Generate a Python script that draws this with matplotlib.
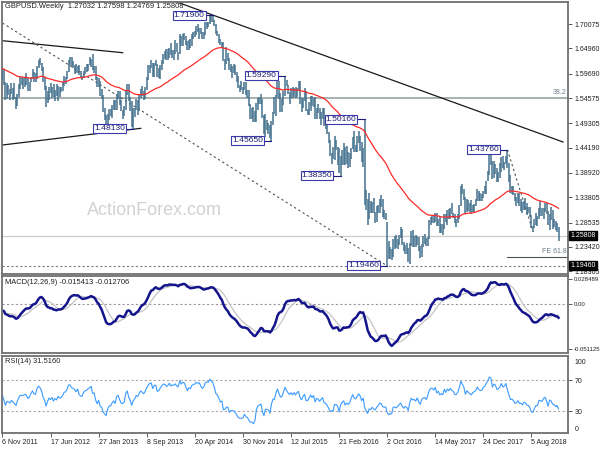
import matplotlib
matplotlib.use("Agg")
import matplotlib.pyplot as plt
from matplotlib import font_manager
import pandas as pd

# GBPUSD weekly bars, weeks starting Sunday 6 Nov 2011 up to 9 Dec 2018
first_week = "2011-11-06"

bar_high = [
    1.6096, 1.6070, 1.5800, 1.5780, 1.5740, 1.5650, 1.5770, 1.5670,
    # 2012
    1.5780, 1.5480, 1.5550, 1.5750, 1.5900, 1.5900, 1.5880, 1.5890, 1.5990, 1.5900, 1.5800, 1.5900, 1.6060,
    1.6000, 1.5990, 1.6130, 1.6250, 1.6300, 1.6200, 1.6100, 1.5900, 1.5720, 1.5600, 1.5700, 1.5780, 1.5700,
    1.5750, 1.5620, 1.5750, 1.5710, 1.5700, 1.5700, 1.5790, 1.5910, 1.5900, 1.6030, 1.6260, 1.6310, 1.6310,
    1.6230, 1.6140, 1.6170, 1.6130, 1.6140, 1.6030, 1.5930, 1.6020, 1.6100, 1.6170, 1.6180, 1.6310, 1.6270,
    # 2013
    1.6380, 1.6120, 1.6130, 1.5890, 1.5870, 1.5820, 1.5640, 1.5520, 1.5240, 1.5100, 1.5120, 1.5230, 1.5230,
    1.5320, 1.5410, 1.5410, 1.5550, 1.5600, 1.5600, 1.5410, 1.5200, 1.5300, 1.5610, 1.5750, 1.5750, 1.5470,
    1.5400, 1.5260, 1.5260, 1.5430, 1.5420, 1.5540, 1.5650, 1.5720, 1.5600, 1.5680, 1.5900, 1.6160, 1.6160,
    1.6260, 1.6200, 1.6190, 1.6250, 1.6180, 1.6080, 1.6140, 1.6250, 1.6390, 1.6450, 1.6480, 1.6480, 1.6500,
    # 2014
    1.6600, 1.6470, 1.6460, 1.6670, 1.6610, 1.6420, 1.6800, 1.6750, 1.6790, 1.6820, 1.6760, 1.6650, 1.6670,
    1.6700, 1.6790, 1.6840, 1.6860, 1.6960, 1.7000, 1.6920, 1.6920, 1.6850, 1.6850, 1.7060, 1.7060, 1.7060,
    1.7180, 1.7180, 1.7190, 1.7100, 1.7000, 1.6860, 1.6800, 1.6700, 1.6630, 1.6640, 1.6270, 1.6520, 1.6400,
    1.6300, 1.6180, 1.6130, 1.6180, 1.6150, 1.6010, 1.5920, 1.5740, 1.5810, 1.5700, 1.5790, 1.5790, 1.5620,
    # 2015
    1.5620, 1.5330, 1.5240, 1.5270, 1.5190, 1.5350, 1.5450, 1.5480, 1.5550, 1.5440, 1.5100, 1.5120, 1.5000,
    1.4940, 1.4900, 1.4980, 1.5170, 1.5490, 1.5520, 1.5810, 1.5820, 1.5560, 1.5440, 1.5600, 1.5930, 1.5840,
    1.5740, 1.5590, 1.5670, 1.5690, 1.5670, 1.5690, 1.5660, 1.5820, 1.5820, 1.5450, 1.5460, 1.5660, 1.5610,
    1.5220, 1.5380, 1.5510, 1.5510, 1.5450, 1.5470, 1.5240, 1.5340, 1.5250, 1.5160, 1.5240, 1.5240, 1.4950,
    # 2016
    1.4950, 1.4750, 1.4580, 1.4300, 1.4440, 1.4670, 1.4590, 1.4430, 1.4410, 1.4240, 1.4370, 1.4510, 1.4440,
    1.4460, 1.4340, 1.4300, 1.4410, 1.4640, 1.4770, 1.4470, 1.4670, 1.4770, 1.4670, 1.4530, 1.4410, 1.5016,
    1.3530, 1.3340, 1.3480, 1.3310, 1.3290, 1.3370, 1.3080, 1.3190, 1.3230, 1.3340, 1.3440, 1.3340, 1.3120,
    1.3060, 1.2870, 1.2470, 1.2340, 1.2290, 1.2500, 1.2570, 1.2590, 1.2500, 1.2600, 1.2770, 1.2720, 1.2440,
    # 2017
    1.2390, 1.2430, 1.2330, 1.2420, 1.2680, 1.2700, 1.2580, 1.2590, 1.2570, 1.2560, 1.2360, 1.2400, 1.2580,
    1.2610, 1.2520, 1.2550, 1.2900, 1.2960, 1.2990, 1.2990, 1.3050, 1.3050, 1.2930, 1.2980, 1.2820, 1.2820,
    1.3030, 1.3030, 1.3110, 1.3130, 1.3160, 1.3270, 1.3060, 1.3040, 1.2920, 1.3030, 1.3230, 1.3620, 1.3650,
    1.3550, 1.3390, 1.3340, 1.3330, 1.3260, 1.3320, 1.3220, 1.3250, 1.3350, 1.3550, 1.3520, 1.3470, 1.3460,
    # 2018
    1.3520, 1.3610, 1.3730, 1.3940, 1.4350, 1.4260, 1.4140, 1.4150, 1.4070, 1.3990, 1.3920, 1.4090, 1.4220,
    1.4240, 1.4120, 1.4240, 1.4376, 1.4090, 1.3840, 1.3620, 1.3610, 1.3480, 1.3390, 1.3470, 1.3470, 1.3340,
    1.3290, 1.3310, 1.3360, 1.3260, 1.3180, 1.3170, 1.3010, 1.2790, 1.2930, 1.3050, 1.2990, 1.3150, 1.3298,
    1.3160, 1.3160, 1.3260, 1.3260, 1.3090, 1.3040, 1.3180, 1.3110, 1.2930, 1.2890, 1.2840, 1.27598,
]

bar_low = [
    1.5844, 1.5725, 1.5420, 1.5430, 1.5530, 1.5420, 1.5540, 1.5410,
    # 2012
    1.5440, 1.5235, 1.5300, 1.5480, 1.5650, 1.5740, 1.5640, 1.5700, 1.5740, 1.5600, 1.5600, 1.5800, 1.5850,
    1.5800, 1.5800, 1.5860, 1.6090, 1.6150, 1.6030, 1.5800, 1.5630, 1.5270, 1.5350, 1.5410, 1.5560, 1.5450,
    1.5480, 1.5400, 1.5500, 1.5400, 1.5470, 1.5580, 1.5600, 1.5710, 1.5760, 1.5850, 1.6000, 1.6150, 1.6120,
    1.6090, 1.5970, 1.5990, 1.5990, 1.5940, 1.5880, 1.5830, 1.5880, 1.5970, 1.6000, 1.6020, 1.6140, 1.6100,
    # 2013
    1.6050, 1.5990, 1.5830, 1.5680, 1.5690, 1.5500, 1.5440, 1.5160, 1.4990, 1.4830, 1.4870, 1.5000, 1.5090,
    1.5040, 1.5200, 1.5200, 1.5200, 1.5430, 1.5310, 1.5180, 1.5010, 1.5080, 1.5200, 1.5520, 1.5400, 1.5180,
    1.4860, 1.4813, 1.5070, 1.5200, 1.5100, 1.5190, 1.5450, 1.5500, 1.5420, 1.5430, 1.5620, 1.5830, 1.5980,
    1.6080, 1.5890, 1.5900, 1.6130, 1.5900, 1.5870, 1.5850, 1.6040, 1.6180, 1.6270, 1.6250, 1.6250, 1.6300,
    # 2014
    1.6360, 1.6300, 1.6250, 1.6380, 1.6430, 1.6250, 1.6390, 1.6550, 1.6540, 1.6680, 1.6560, 1.6460, 1.6460,
    1.6500, 1.6550, 1.6700, 1.6730, 1.6780, 1.6850, 1.6690, 1.6790, 1.6690, 1.6690, 1.6780, 1.6910, 1.6950,
    1.7000, 1.7060, 1.7060, 1.6970, 1.6800, 1.6760, 1.6600, 1.6560, 1.6520, 1.6230, 1.6050, 1.6170, 1.6240,
    1.6050, 1.6000, 1.5880, 1.5990, 1.5950, 1.5790, 1.5660, 1.5590, 1.5620, 1.5540, 1.5620, 1.5530, 1.5460,
    # 2015
    1.5300, 1.5030, 1.5030, 1.4950, 1.4950, 1.4950, 1.5200, 1.5330, 1.5330, 1.5050, 1.4700, 1.4640, 1.4790,
    1.4700, 1.4630, 1.4565, 1.4890, 1.5130, 1.5080, 1.5470, 1.5440, 1.5170, 1.5170, 1.5320, 1.5510, 1.5710,
    1.5550, 1.5330, 1.5450, 1.5450, 1.5480, 1.5450, 1.5480, 1.5610, 1.5330, 1.5160, 1.5250, 1.5400, 1.5190,
    1.5110, 1.5110, 1.5180, 1.5300, 1.5270, 1.5020, 1.5020, 1.5150, 1.5020, 1.4900, 1.5030, 1.4880, 1.4820,
    # 2016
    1.4700, 1.4510, 1.4240, 1.4080, 1.4190, 1.4170, 1.4370, 1.4050, 1.3880, 1.3835, 1.4050, 1.4050, 1.4050,
    1.4070, 1.4000, 1.4010, 1.4180, 1.4390, 1.4330, 1.4330, 1.4330, 1.4520, 1.4350, 1.4130, 1.4010, 1.3230,
    1.3120, 1.2800, 1.2930, 1.3060, 1.3060, 1.3050, 1.2850, 1.2870, 1.3050, 1.3050, 1.3170, 1.2970, 1.2920,
    1.2910, 1.1946, 1.2090, 1.2090, 1.2080, 1.2140, 1.2300, 1.2330, 1.2300, 1.2390, 1.2530, 1.2390, 1.2250,
    # 2017
    1.2200, 1.2200, 1.2030, 1.1986, 1.2370, 1.2350, 1.2340, 1.2340, 1.2380, 1.2250, 1.2110, 1.2130, 1.2340,
    1.2400, 1.2360, 1.2360, 1.2510, 1.2800, 1.2840, 1.2840, 1.2870, 1.2780, 1.2780, 1.2640, 1.2630, 1.2590,
    1.2710, 1.2870, 1.2810, 1.2930, 1.2930, 1.3030, 1.2950, 1.2840, 1.2770, 1.2850, 1.2930, 1.3200, 1.3450,
    1.3330, 1.3030, 1.3070, 1.3100, 1.3080, 1.3040, 1.3080, 1.3070, 1.3210, 1.3310, 1.3300, 1.3300, 1.3300,
    # 2018
    1.3370, 1.3460, 1.3450, 1.3720, 1.3850, 1.4060, 1.3760, 1.3790, 1.3860, 1.3710, 1.3710, 1.3790, 1.3910,
    1.3990, 1.3960, 1.4070, 1.3990, 1.3710, 1.3480, 1.3450, 1.3440, 1.3300, 1.3200, 1.3260, 1.3200, 1.3100,
    1.3050, 1.3120, 1.3110, 1.3010, 1.3060, 1.2960, 1.2730, 1.2662, 1.2730, 1.2810, 1.2790, 1.2920, 1.3000,
    1.2990, 1.2920, 1.3070, 1.3030, 1.2810, 1.2700, 1.2910, 1.2720, 1.2760, 1.2690, 1.2660, 1.24769,
]

bar_close = [
    1.6070, 1.5800, 1.5450, 1.5650, 1.5600, 1.5540, 1.5660, 1.5540,
    # 2012
    1.5460, 1.5330, 1.5530, 1.5700, 1.5800, 1.5780, 1.5800, 1.5840, 1.5800, 1.5660, 1.5720, 1.5870, 1.5980,
    1.5870, 1.5850, 1.6110, 1.6240, 1.6180, 1.6080, 1.5820, 1.5680, 1.5340, 1.5520, 1.5680, 1.5600, 1.5690,
    1.5500, 1.5610, 1.5540, 1.5700, 1.5610, 1.5630, 1.5710, 1.5860, 1.5880, 1.6000, 1.6240, 1.6230, 1.6150,
    1.6130, 1.6090, 1.6020, 1.6130, 1.5950, 1.5890, 1.5890, 1.6020, 1.6080, 1.6100, 1.6160, 1.6190, 1.6250,
    # 2013
    1.6060, 1.6080, 1.5850, 1.5700, 1.5800, 1.5520, 1.5480, 1.5170, 1.5020, 1.4880, 1.5090, 1.5190, 1.5190,
    1.5300, 1.5360, 1.5240, 1.5520, 1.5550, 1.5350, 1.5180, 1.5150, 1.5200, 1.5560, 1.5690, 1.5400, 1.5210,
    1.4890, 1.5100, 1.5200, 1.5380, 1.5330, 1.5500, 1.5640, 1.5570, 1.5500, 1.5650, 1.5850, 1.6010, 1.6160,
    1.6180, 1.5960, 1.6170, 1.6180, 1.5920, 1.5970, 1.6120, 1.6240, 1.6370, 1.6360, 1.6290, 1.6330, 1.6470,
    # 2014
    1.6380, 1.6440, 1.6430, 1.6500, 1.6440, 1.6420, 1.6740, 1.6640, 1.6740, 1.6720, 1.6610, 1.6490, 1.6620,
    1.6590, 1.6740, 1.6790, 1.6810, 1.6890, 1.6870, 1.6890, 1.6810, 1.6760, 1.6810, 1.6980, 1.7020, 1.7010,
    1.7150, 1.7110, 1.7080, 1.6980, 1.6830, 1.6790, 1.6700, 1.6580, 1.6600, 1.6240, 1.6250, 1.6300, 1.6300,
    1.6050, 1.6090, 1.6080, 1.6080, 1.5980, 1.5850, 1.5680, 1.5650, 1.5640, 1.5650, 1.5710, 1.5580, 1.5520,
    # 2015
    1.5320, 1.5150, 1.5150, 1.4980, 1.5040, 1.5290, 1.5380, 1.5400, 1.5430, 1.5050, 1.4730, 1.4930, 1.4900,
    1.4880, 1.4640, 1.4960, 1.5170, 1.5150, 1.5470, 1.5700, 1.5480, 1.5280, 1.5310, 1.5570, 1.5890, 1.5730,
    1.5600, 1.5510, 1.5610, 1.5500, 1.5620, 1.5510, 1.5630, 1.5700, 1.5400, 1.5260, 1.5430, 1.5540, 1.5190,
    1.5170, 1.5310, 1.5460, 1.5320, 1.5420, 1.5040, 1.5220, 1.5190, 1.5040, 1.5140, 1.5220, 1.4900, 1.4880,
    # 2016
    1.4740, 1.4540, 1.4240, 1.4270, 1.4250, 1.4500, 1.4500, 1.4400, 1.3920, 1.4230, 1.4360, 1.4430, 1.4130,
    1.4230, 1.4130, 1.4200, 1.4410, 1.4620, 1.4430, 1.4370, 1.4500, 1.4640, 1.4530, 1.4250, 1.4380, 1.3660,
    1.3290, 1.2950, 1.3200, 1.3100, 1.3230, 1.3070, 1.2940, 1.3080, 1.3160, 1.3300, 1.3260, 1.3010, 1.2960,
    1.2970, 1.2430, 1.2180, 1.2230, 1.2190, 1.2490, 1.2490, 1.2420, 1.2480, 1.2570, 1.2620, 1.2400, 1.2280,
    # 2017
    1.2340, 1.2290, 1.2070, 1.2370, 1.2580, 1.2480, 1.2500, 1.2410, 1.2550, 1.2320, 1.2180, 1.2400, 1.2460,
    1.2480, 1.2380, 1.2550, 1.2830, 1.2950, 1.2950, 1.2880, 1.3030, 1.2800, 1.2890, 1.2730, 1.2790, 1.2740,
    1.3020, 1.2880, 1.3070, 1.3000, 1.3130, 1.3040, 1.3010, 1.2880, 1.2880, 1.2990, 1.3200, 1.3610, 1.3500,
    1.3390, 1.3070, 1.3280, 1.3190, 1.3130, 1.3080, 1.3190, 1.3240, 1.3310, 1.3480, 1.3380, 1.3350, 1.3370,
    # 2018
    1.3510, 1.3570, 1.3730, 1.3860, 1.4150, 1.4120, 1.3820, 1.4010, 1.3970, 1.3810, 1.3850, 1.3950, 1.4150,
    1.4020, 1.4090, 1.4240, 1.4000, 1.3780, 1.3530, 1.3550, 1.3470, 1.3310, 1.3340, 1.3410, 1.3270, 1.3280,
    1.3190, 1.3280, 1.3240, 1.3140, 1.3120, 1.3000, 1.2750, 1.2740, 1.2840, 1.2920, 1.2920, 1.3070, 1.3060,
    1.3030, 1.3110, 1.3150, 1.3030, 1.2810, 1.2990, 1.2960, 1.2820, 1.2800, 1.2710, 1.2740, 1.25808,
]
last_open = 1.27032

# weekly closes of the year before the chart, only to warm up the indicators
warmup_close = [
    1.6140, 1.6000, 1.5590, 1.5780, 1.5780, 1.5570, 1.5430, 1.5600, 1.5480, 1.5840, 1.5950, 1.5850, 1.6100,
    1.6000, 1.6220, 1.6140, 1.6320, 1.6090, 1.6190, 1.6100, 1.6050, 1.6340, 1.6320, 1.6520, 1.6700, 1.6440,
    1.6270, 1.6300, 1.6530, 1.6420, 1.6310, 1.6110, 1.6000, 1.6070, 1.5950, 1.6150, 1.6310, 1.6420, 1.6350,
    1.6300, 1.6500, 1.6420, 1.6230, 1.5950, 1.5770, 1.5460, 1.5590, 1.5490, 1.5760, 1.5820, 1.6080, 1.6040,
]

# swing labels drawn on the chart
label_price = [1.7190, 1.5929, 1.4813, 1.4565, 1.5016, 1.3835, 1.1946, 1.4376]
label_week = ["2014-07-13", "2015-06-14", "2013-07-07", "2015-04-12",
              "2016-06-19", "2016-02-28", "2016-10-02", "2018-04-15"]

# trendlines as (week, price) anchors
trend_solid = [
    [("2014-01-26", 1.7468), ("2018-12-30", 1.4539)],
    [("2011-11-06", 1.6658), ("2013-05-19", 1.6407)],
    [("2011-11-06", 1.4476), ("2013-08-11", 1.4825)],
]
trend_dotted = [
    [("2011-11-06", 1.7028), ("2016-10-02", 1.1946)],
    [("2018-04-15", 1.4376), ("2018-08-12", 1.2662)],
]
fib_level = 1.5466      # 38.2
fe_level = 1.2135       # FE 61.8
fe_start = "2018-04-15"
support_level = 1.1946

price_ticks = [1.70075, 1.64960, 1.59690, 1.54575, 1.49305, 1.44190, 1.38920,
               1.33805, 1.28535, 1.23420, 1.18305]
macd_ticks = [0.028489, 0.0, -0.051125]
macd_tick_text = ["0.028489", "0.00", "-0.051125"]
rsi_levels = [70, 30]
macd_shown = (-0.015413, -0.012706)
rsi_shown = 31.5160
date_ticks = ["2011-11-06", "2012-06-17", "2013-01-27", "2013-09-08", "2014-04-20", "2014-11-30",
              "2015-07-12", "2016-02-21", "2016-10-02", "2017-05-14", "2017-12-24", "2018-08-05"]

assert len(bar_high) == len(bar_low) == len(bar_close) == 371

weeks = pd.date_range(first_week, periods=len(bar_close), freq="7D")
x = list(range(len(bar_close)))


def wk(d):
    return (pd.Timestamp(d) - weeks[0]).days / 7


# indicators, computed on warm-up + chart closes
closes = pd.Series(warmup_close + bar_close)
n0 = len(warmup_close)
ema55 = closes.ewm(span=55, adjust=False).mean()[n0:]
macd = closes.ewm(span=12, adjust=False).mean() - closes.ewm(span=26, adjust=False).mean()
signal = macd.rolling(9).mean()
delta = closes.diff()
gain = delta.clip(lower=0).ewm(alpha=1 / 14, adjust=False).mean()
loss = (-delta.clip(upper=0)).ewm(alpha=1 / 14, adjust=False).mean()
rsi = 100 - 100 / (1 + gain / loss)
macd, signal, rsi = macd[n0:], signal[n0:], rsi[n0:]

names = {f.name for f in font_manager.fontManager.ttflist}
if "Liberation Sans Narrow" in names:
    base_font, fs = "Liberation Sans Narrow", 5.9
else:
    base_font, fs = "Liberation Sans", 5.0
plt.rcParams["font.family"] = [base_font, "DejaVu Sans"]

border = "#707070"
fig = plt.figure(figsize=(6, 4.5), dpi=100, facecolor="white")
ax_p = fig.add_axes([2 / 600, 1 - 274 / 450, 566 / 600, 272 / 450])
ax_m = fig.add_axes([2 / 600, 1 - 353 / 450, 566 / 600, 77 / 450])
ax_r = fig.add_axes([2 / 600, 1 - 433 / 450, 566 / 600, 77 / 450])

for ax in (ax_p, ax_m, ax_r):
    ax.set_xlim(-0.3, 376.3)
    for s in ax.spines.values():
        s.set_color(border)
        s.set_linewidth(1.3)
    ax.yaxis.tick_right()
    ax.tick_params(axis="y", length=3, width=0.6, color="#404040", pad=2, labelsize=fs, labelcolor="#202020")
    ax.tick_params(axis="x", length=3, width=0.6, color="#404040", pad=1.5, labelsize=fs, labelcolor="#202020")

# ---- price panel
ax_p.set_ylim(1.1777, 1.7468)
ax_p.set_xticks([])
ax_p.set_yticks(price_ticks)
ax_p.set_yticklabels([f"{v:.5f}" for v in price_ticks])

ax_p.text(0.27, 0.232, "ActionForex.com", transform=ax_p.transAxes, ha="center", va="center",
          fontsize=13, color="#d2d2d2", family="Liberation Sans")

ax_p.axhline(fib_level, color="#9aa4a4", lw=1.2, zorder=1)
ax_p.axhline(bar_close[-1], color="#cccccc", lw=0.9, zorder=1)
ax_p.axhline(support_level, color="#7a7a7a", lw=0.8, ls=(0, (2, 2)), zorder=1)
ax_p.plot([wk(fe_start), 376.3], [fe_level, fe_level], color="#4a5555", lw=0.8)
ax_p.text(0.997, fib_level + 0.004, "38.2", transform=ax_p.get_yaxis_transform(),
          ha="right", va="bottom", fontsize=fs, color="#6a7a8a")
ax_p.text(0.997, fe_level + 0.004, "FE 61.8", transform=ax_p.get_yaxis_transform(),
          ha="right", va="bottom", fontsize=fs, color="#6a7a8a")

for (d0, p0), (d1, p1) in trend_solid:
    ax_p.plot([wk(d0), wk(d1)], [p0, p1], color="#1a1a1a", lw=0.9, zorder=2)
for (d0, p0), (d1, p1) in trend_dotted:
    ax_p.plot([wk(d0), wk(d1)], [p0, p1], color="#505050", lw=0.8, ls=(0, (2, 2.5)), zorder=2)

ax_p.vlines(x, bar_low, bar_high, color="#44728f", lw=1.1, zorder=3)
ax_p.plot(x, ema55, color="#ff2a2a", lw=0.9, zorder=4)

for p, d in zip(label_price, label_week):
    i = wk(d)
    ax_p.plot([i - 5.5, i], [p, p], color="#1c1c80", lw=0.8, zorder=5)
    ax_p.text(i - 5.5, p, f"{p:.5f}", ha="right", va="center", fontsize=fs + 1.1, color="#1c1c78",
              zorder=6, bbox=dict(boxstyle="square,pad=0.12", fc="white", ec="#3a3aa8", lw=0.8))

for v in (bar_close[-1], support_level):
    ax_p.text(1.004, v, f"{v:.5f}", transform=ax_p.get_yaxis_transform(), ha="left", va="center",
              fontsize=fs, color="white", bbox=dict(boxstyle="square,pad=0.15", fc="black", ec="black"))

ax_p.text(0.006, 0.982, f"GBPUSD.Weekly  {last_open:.5f} {bar_high[-1]:.5f} {bar_low[-1]:.5f} {bar_close[-1]:.5f}",
          transform=ax_p.transAxes, ha="left", va="center", fontsize=fs + 0.4, color="#202020")

# ---- MACD panel
ax_m.set_ylim(-0.0557, 0.0318)
ax_m.set_xticks([])
ax_m.set_yticks(macd_ticks)
ax_m.set_yticklabels(macd_tick_text)
ax_m.tick_params(axis="y", pad=1, labelsize=fs - 0.7)
ax_m.axhline(0, color="#999999", lw=0.8, ls=(0, (2, 2)))
ax_m.plot(x, signal, color="#c4c4c4", lw=0.9)
ax_m.plot(x, macd, color="#14148c", lw=1.8)
ax_m.text(0.006, 0.913, f"MACD(12,26,9) {macd_shown[0]:.6f} {macd_shown[1]:.6f}",
          transform=ax_m.transAxes, ha="left", va="center", fontsize=fs + 0.4, color="#202020")

# ---- RSI panel
ax_r.set_ylim(1.6, 101)
ax_r.set_yticks(rsi_levels)
ax_r.set_yticklabels([str(v) for v in rsi_levels])
for lvl in rsi_levels:
    ax_r.axhline(lvl, color="#aaaaaa", lw=0.8, ls=(0, (2, 2)))
ax_r.text(1.012, 0.92, "100", transform=ax_r.transAxes, ha="left", va="center", fontsize=fs, color="#202020")
ax_r.text(1.012, 0.05, "0", transform=ax_r.transAxes, ha="left", va="center", fontsize=fs, color="#202020")
ax_r.plot(x, rsi, color="#3b9bff", lw=0.8)
ax_r.text(0.006, 0.926, f"RSI(14) {rsi_shown:.4f}", transform=ax_r.transAxes,
          ha="left", va="center", fontsize=fs + 0.4, color="#202020")

tick_pos = [wk(d) for d in date_ticks]
ax_r.set_xticks(tick_pos)
ax_r.set_xticklabels([f"{pd.Timestamp(d).day} {pd.Timestamp(d).strftime('%b %Y')}" for d in date_ticks],
                     ha="left")

fig.savefig("out.png", dpi=100, facecolor="white")
